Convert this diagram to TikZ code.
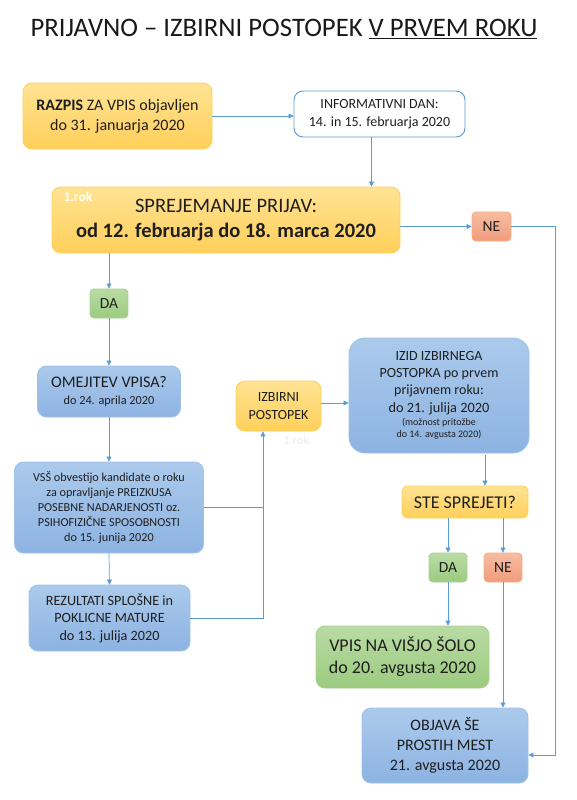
\documentclass[tikz,border=0pt]{standalone}
\usepackage{fontspec}
\setmainfont{Carlito}
\usetikzlibrary{arrows.meta}

\definecolor{arrowblue}{HTML}{5B9BD5}
\definecolor{goldtop}{HTML}{FFE394}
\definecolor{goldbot}{HTML}{FFCF5A}
\definecolor{goldline}{HTML}{FFD257}
\definecolor{skytop}{HTML}{ABCAEC}
\definecolor{skybot}{HTML}{8DB3E2}
\definecolor{skyline}{HTML}{9DC3E6}
\definecolor{leaftop}{HTML}{B9DBA4}
\definecolor{leafbot}{HTML}{9CCB80}
\definecolor{leafline}{HTML}{A9D18E}
\definecolor{coraltop}{HTML}{F7BCA2}
\definecolor{coralbot}{HTML}{F09C7C}
\definecolor{coralline}{HTML}{F4B183}

\newcommand{\fs}[2]{\fontsize{#1}{#2}\selectfont}

\begin{document}
\begin{tikzpicture}[
  x=1pt, y=-1pt,
  box/.style={rounded corners=9pt, align=center, inner sep=0pt,
    text=black!88, line width=0.9pt},
  gold/.style={box, draw=goldline, top color=goldtop, bottom color=goldbot},
  sky/.style={box, draw=skyline, top color=skytop, bottom color=skybot},
  leaf/.style={box, draw=leafline, top color=leaftop, bottom color=leafbot},
  coral/.style={box, rounded corners=4pt, draw=coralline, top color=coraltop, bottom color=coralbot},
  flow/.style={-{Triangle[length=5pt,width=5pt]}, line width=0.7pt, draw=arrowblue},
  link/.style={line width=0.7pt, draw=arrowblue}
]
\useasboundingbox (0,0) rectangle (577,800);

% title
\node[anchor=base, text=black!90, font=\fs{26.7}{30}] (title) at (284,37)
  {PRIJAVNO – IZBIRNI POSTOPEK \underline{V PRVEM ROKU}};

% first stage
\node[gold, minimum width=189pt, minimum height=66pt, font=\fs{16}{20}] (razpis) at (117.5,116)
  {\textbf{RAZPIS} ZA VPIS objavljen\\do 31. januarja 2020};
\node[box, draw=arrowblue, fill=white, minimum width=171pt, minimum height=46pt, font=\fs{14}{18}] (info) at (379.5,114)
  {INFORMATIVNI DAN:\\14. in 15. februarja 2020};
\node[gold, minimum width=348pt, minimum height=66pt, font=\fs{20.5}{25}] (sprej) at (226,220)
  {SPREJEMANJE PRIJAV:\\\textbf{od 12. februarja do 18. marca 2020}};
\node[anchor=west, text=white, font=\bfseries\fs{13.5}{15}] (rok) at (60,197) {1.rok};
\node[coral, minimum width=39pt, minimum height=29pt, font=\fs{15.5}{17}] (ne) at (491.5,226.5) {NE};
\node[leaf, rounded corners=4pt, minimum width=38pt, minimum height=29pt, font=\fs{15.5}{17}] (da) at (109,303.5) {DA};

% left column
\node[sky, minimum width=143pt, minimum height=51pt, font=\fs{16.2}{17}] (omejitev) at (109,391.5)
  {OMEJITEV VPISA?\\{\fs{12.3}{15}do 24. aprila 2020}};
\node[sky, minimum width=189pt, minimum height=91pt, font=\fs{12.2}{15.2}] (vss) at (109,507.5)
  {VSŠ obvestijo kandidate o roku\\za opravljanje PREIZKUSA\\POSEBNE NADARJENOSTI oz.\\PSIHOFIZIČNE SPOSOBNOSTI\\do 15. junija 2020};
\node[sky, minimum width=161pt, minimum height=66pt, font=\fs{14.2}{17.5}] (rezultati) at (109.5,618)
  {REZULTATI SPLOŠNE in\\POKLICNE MATURE\\do 13. julija 2020};

% selection
\node[gold, minimum width=85pt, minimum height=50pt, font=\fs{14}{17.5}] (izbirni) at (278.5,406)
  {IZBIRNI\\POSTOPEK};
\node[anchor=west, text=black!6, font=\bfseries\fs{12}{13}] (rok2) at (280,440) {1.rok};
\node[sky, rounded corners=16pt, minimum width=180pt, minimum height=115pt, font=\fs{14}{17}] (izid) at (439,395.5)
  {IZID IZBIRNEGA\\POSTOPKA po prvem\\prijavnem roku:\\[1pt]
   {\fs{14.3}{17}do 21. julija 2020}\\[-4pt]{\fs{10}{12}(možnost pritožbe}\\[-5pt]{\fs{10}{12}do 14. avgusta 2020)}};
\node[gold, rounded corners=6pt, minimum width=126pt, minimum height=32pt, font=\fs{18}{20}] (ste) at (465,502)
  {STE SPREJETI?};
\node[leaf, rounded corners=4pt, minimum width=38pt, minimum height=29pt, font=\fs{15.5}{17}] (da2) at (448,567.5) {DA};
\node[coral, minimum width=38pt, minimum height=29pt, font=\fs{15.5}{17}] (ne2) at (503,567.5) {NE};
\node[leaf, minimum width=173pt, minimum height=62pt, font=\fs{18}{22}] (vpis) at (402.5,657)
  {VPIS NA VIŠJO ŠOLO\\do 20. avgusta 2020};
\node[sky, minimum width=166pt, minimum height=75pt, font=\fs{16}{20}] (objava) at (445,745.5)
  {OBJAVA ŠE\\PROSTIH MEST\\21. avgusta 2020};

\coordinate (bend) at (555,755);
\coordinate (join) at (263,618);

% connectors
\draw[flow] (razpis.east) -- (razpis.east -| info.west);
\draw[flow] ([xshift=-8pt]info.south) -- ([xshift=-8pt]info.south |- sprej.north);
\draw[flow] (ne.west -| sprej.east) -- (ne.west);
\draw[flow] (ne.east) -| (bend) -- (bend -| objava.east);
\draw[flow] (da.north |- sprej.south) -- (da.north);
\draw[flow] (da.south) -- (omejitev.north);
\draw[flow] (omejitev.south) -- (vss.north);
\draw[flow] (vss.south) -- (rezultati.north);
\draw[link] (vss.east) -- (vss.east -| join);
\draw[flow] (rezultati.east) -- (join) -- (join |- izbirni.south);
\draw[flow] ([yshift=3pt]izbirni.east) -- ([yshift=3pt]izbirni.east -| izid.west);
\draw[flow] ([xshift=46pt,yshift=-2pt]izid.south) -- ([xshift=46pt]izid.south |- ste.north);
\draw[flow] (da2.north |- ste.south) -- (da2.north);
\draw[flow] (ne2.north |- ste.south) -- (ne2.north);
\draw[flow] (da2.south) -- (da2.south |- vpis.north);
\draw[flow] (ne2.south) -- (ne2.south |- objava.north);
\end{tikzpicture}
\end{document}
